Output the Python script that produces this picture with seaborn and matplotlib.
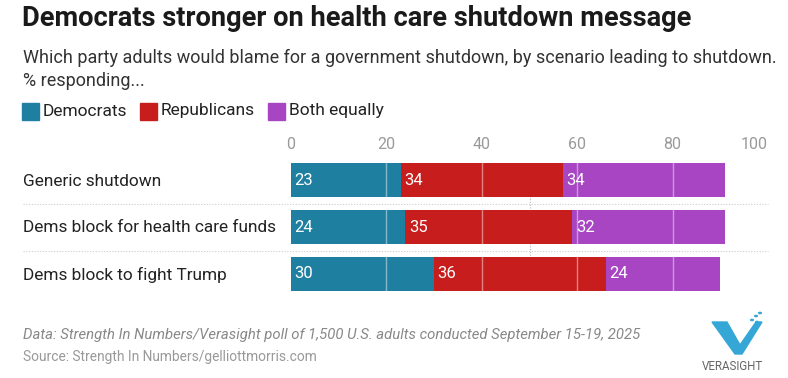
import matplotlib
matplotlib.use("Agg")
import matplotlib.pyplot as plt
import seaborn as sns
import pandas as pd
import numpy as np
from matplotlib.patches import Rectangle, Polygon

scenarios = ["Generic shutdown", "Dems block for health care funds", "Dems block to fight Trump"]
democrats = [23, 24, 30]
republicans = [34, 35, 36]
both = [34, 32, 24]
series_names = ["Democrats", "Republicans", "Both equally"]
colors = ["#1F7FA1", "#C71E1D", "#A745C3"]
ticks = [0, 20, 40, 60, 80, 100]

sns.set_theme(style="white")
plt.rcParams["font.family"] = ["Roboto", "DejaVu Sans"]

W, H = 788, 378
fig = plt.figure(figsize=(W / 100, H / 100), dpi=100)

def fx(px):
    return px / W

def fy(py):
    return 1 - py / H

ax_left, ax_right = 291, 768
ax_top, ax_bot = 156.5, 297.5
ax = fig.add_axes([fx(ax_left), fy(ax_bot), fx(ax_right - ax_left), (ax_bot - ax_top) / H])

df = pd.DataFrame({"scenario": scenarios, "dem": democrats, "rep": republicans, "both": both})
df["c1"] = df["dem"]
df["c2"] = df["dem"] + df["rep"]
df["c3"] = df["c2"] + df["both"]

for col, c in zip(["c3", "c2", "c1"], colors[::-1]):
    sns.barplot(data=df, y="scenario", x=col, orient="h", color=c, width=0.72,
                saturation=1, ax=ax, zorder=2, linewidth=0)

ax.set_xlim(0, 100)
ax.set_ylim(2.5, -0.5)
ax.set_xlabel("")
ax.set_ylabel("")
for s in ax.spines.values():
    s.set_visible(False)
ax.xaxis.tick_top()
ax.set_xticks(ticks)
ax.set_xticklabels([str(t) for t in ticks], color="#9a9a9a", fontsize=11.5)
ax.tick_params(axis="x", length=0, pad=3)
lbls = ax.get_xticklabels()
lbls[-1].set_horizontalalignment("right")
ax.set_yticks([])

# light gridlines over bars
for t in ticks[1:-1]:
    ax.axvline(t, color="white", alpha=0.45, lw=1, zorder=3)
# reference line at 50
ax.axvline(50, color="#bbbbbb", lw=0.8, ls=(0, (1, 1.5)), zorder=1, ymin=0.1, ymax=0.9)

# value labels
for i in range(len(scenarios)):
    starts = [0, democrats[i], democrats[i] + republicans[i]]
    vals = [democrats[i], republicans[i], both[i]]
    for s0, v in zip(starts, vals):
        ax.text(s0 + 0.7, i, str(v), color="white", fontsize=12, va="center", ha="left", zorder=4)

# row labels & separators
for i, name in enumerate(scenarios):
    fig.text(fx(23), fy(181 + i * 47), name, fontsize=12.4, color="#222222", va="center", ha="left")
for ypx in [203.5, 250.5]:
    fig.add_artist(plt.Line2D([fx(23), fx(768)], [fy(ypx), fy(ypx)], color="#cccccc",
                              lw=0.8, ls=(0, (1, 1.5))))

# title / subtitle
fig.text(fx(22), fy(18), "Democrats stronger on health care shutdown message", fontsize=19.6,
         fontweight="bold", color="#1a1a1a", va="center", ha="left")
fig.text(fx(23), fy(58), "Which party adults would blame for a government shutdown, by scenario leading to shutdown.",
         fontsize=13, color="#333333", va="center", ha="left")
fig.text(fx(23), fy(81), "% responding...", fontsize=13, color="#333333", va="center", ha="left")

# legend
lx = [22, 140, 268]
for x0, name, c in zip(lx, series_names, colors):
    fig.add_artist(Rectangle((fx(x0), fy(120)), fx(17), 17 / H, color=c, transform=fig.transFigure))
    fig.text(fx(x0 + 21), fy(111), name, fontsize=12.5, color="#222222", va="center", ha="left")

# footer
fig.text(fx(23), fy(335), "Data: Strength In Numbers/Verasight poll of 1,500 U.S. adults conducted September 15-19, 2025",
         fontsize=10.75, style="italic", color="#888888", va="center", ha="left")
fig.text(fx(23), fy(357), "Source: Strength In Numbers/gelliottmorris.com", fontsize=9.9,
         color="#999999", va="center", ha="left")

# simple logo
v = Polygon([[fx(712), fy(322)], [fx(727), fy(322)], [fx(740), fy(345)], [fx(756), fy(322)],
             [fx(762), fy(322)], [fx(742), fy(354)], [fx(735), fy(354)]], closed=True,
            color="#35A7D6", transform=fig.transFigure)
fig.add_artist(v)
for dx, dy in [(752, 320), (756, 316), (760, 313), (757, 322)]:
    fig.add_artist(plt.Circle((fx(dx), fy(dy)), 1.3 / W, color="#35A7D6", transform=fig.transFigure))
fig.text(fx(732), fy(366), "VERASIGHT", fontsize=8.3, color="#666666", va="center", ha="center")

fig.savefig("out.png", dpi=100)
